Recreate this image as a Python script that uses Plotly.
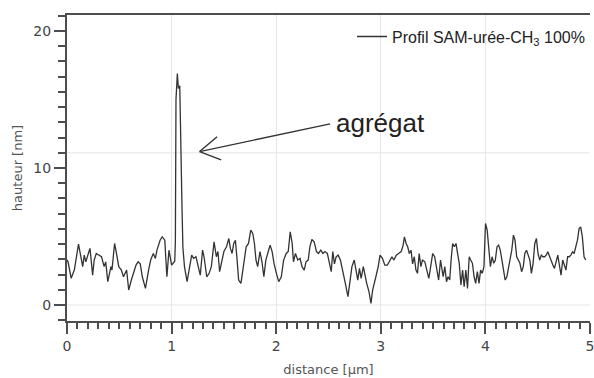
import plotly.graph_objects as go

# AFM height profile
distance_um = [
    0.0, 0.01, 0.04, 0.07, 0.11, 0.125, 0.15, 0.165, 0.18, 0.21,
    0.22, 0.245, 0.26, 0.28, 0.31, 0.33, 0.355, 0.37, 0.39, 0.42,
    0.43, 0.455, 0.47, 0.495, 0.52, 0.54, 0.57, 0.59, 0.615, 0.635,
    0.66, 0.68, 0.70, 0.72, 0.75, 0.78, 0.80, 0.825, 0.845, 0.86,
    0.89, 0.91, 0.935, 0.955, 0.975, 1.0, 1.02,
    # aggregate
    1.03, 1.036, 1.042, 1.055, 1.065, 1.078, 1.088, 1.10, 1.108, 1.123, 1.148,
    1.17, 1.192, 1.21, 1.233, 1.255, 1.274, 1.296, 1.31, 1.336, 1.359,
    1.38, 1.406, 1.428, 1.443, 1.459, 1.478, 1.5, 1.525, 1.547, 1.562,
    1.578, 1.594, 1.61, 1.625, 1.641, 1.663, 1.688, 1.713, 1.735, 1.757,
    1.776, 1.792, 1.807, 1.823, 1.845, 1.864, 1.882, 1.901, 1.924, 1.942,
    1.961, 1.98, 2.002, 2.024, 2.049, 2.071, 2.096, 2.115, 2.134, 2.153,
    2.165, 2.184, 2.206, 2.228, 2.247, 2.268,
    2.285, 2.306, 2.322, 2.341, 2.363, 2.385, 2.404, 2.426, 2.447, 2.466,
    2.489, 2.51, 2.526, 2.541, 2.557, 2.573, 2.592, 2.614, 2.636, 2.661,
    2.686, 2.708, 2.724, 2.746, 2.765, 2.78, 2.796, 2.812, 2.833, 2.849,
    2.865, 2.887, 2.906, 2.922, 2.937, 2.953, 2.975, 2.993, 3.016, 3.038,
    3.063, 3.085, 3.106, 3.125, 3.148, 3.17, 3.195, 3.214, 3.226, 3.242,
    3.257, 3.273, 3.289, 3.304, 3.32, 3.336, 3.351, 3.367, 3.383, 3.398,
    3.421, 3.44, 3.459, 3.477, 3.496, 3.515, 3.534, 3.553, 3.571,
    3.596, 3.612, 3.628, 3.643, 3.659, 3.672, 3.687, 3.703, 3.719, 3.734,
    3.75, 3.766, 3.782, 3.797, 3.813, 3.829, 3.845, 3.86, 3.876, 3.892,
    3.907, 3.923, 3.939, 3.954, 3.97, 3.986, 4.001, 4.017, 4.033, 4.048,
    4.064, 4.08, 4.095, 4.111, 4.127, 4.142, 4.158, 4.174, 4.189, 4.205,
    4.221, 4.236, 4.252, 4.268, 4.283, 4.299, 4.315, 4.33, 4.346, 4.362,
    4.377, 4.393, 4.409, 4.425, 4.44, 4.456, 4.472, 4.488, 4.503, 4.519,
    4.535, 4.55, 4.566, 4.582, 4.597, 4.613, 4.629, 4.645, 4.66, 4.676,
    4.692, 4.707, 4.723, 4.739, 4.754, 4.77, 4.786, 4.801, 4.817, 4.833,
    4.848, 4.864, 4.88, 4.896, 4.911, 4.927, 4.943, 4.959,
]

hauteur_nm = [
    3.3, 3.15, 1.95, 2.55, 4.44, 3.9, 2.8, 3.64, 3.15, 3.9,
    4.13, 2.18, 3.28, 3.76, 3.64, 3.52, 2.8, 3.15, 1.7, 2.8,
    2.55, 4.49, 3.9, 2.8, 2.55, 2.06, 2.55, 1.09, 1.82, 2.31,
    2.91, 3.15, 3.0, 2.06, 1.21, 2.55, 3.28, 3.76, 3.4, 4.0,
    4.73, 4.97, 4.73, 2.06, 4.0, 2.91, 3.15,
    # aggregate
    3.2, 4.6, 15.0, 16.9, 15.8, 16.0, 10.2, 6.9, 4.2, 2.8, 1.7,
    2.55, 3.64, 3.4, 3.52, 2.8, 2.18, 4.0, 3.52, 2.06, 2.31,
    2.8, 4.61, 3.52, 3.9, 2.43, 3.15, 3.9, 4.25, 4.85, 4.13,
    3.76, 4.49, 4.73, 3.4, 1.82, 1.58, 3.0, 4.25, 4.49, 5.46,
    5.22, 4.49, 3.28, 2.8, 3.9, 3.15, 2.06, 3.28, 3.9, 4.37,
    3.9, 3.0, 2.31, 1.7, 2.06, 3.28, 3.76, 3.9, 5.34, 4.49,
    3.15, 3.76, 3.28, 3.4, 2.8, 2.55,
    3.15, 3.28, 4.25, 4.78, 4.61, 3.9, 3.76, 4.0, 3.76, 3.9,
    3.76, 3.0, 2.43, 3.9, 3.0, 3.52, 3.64, 3.28, 2.55, 1.58,
    0.61, 1.82, 2.8, 3.28, 2.55, 1.82, 2.67, 1.94, 2.8, 2.06,
    1.58, 0.97, 0.12, 1.09, 1.7, 2.06, 2.8, 3.64, 3.4, 2.91,
    2.91, 3.28, 3.52, 3.28, 3.64, 3.76, 3.9, 4.37, 4.97, 4.49,
    4.25, 3.76, 4.0, 3.0, 3.52, 2.55, 2.31, 3.76, 2.8, 3.28,
    3.15, 2.55, 1.94, 2.8, 3.76, 3.52, 2.8, 1.82, 3.28,
    2.06, 2.8, 1.7, 2.06, 1.82, 3.28, 4.49, 4.25, 4.49, 3.76,
    3.04, 1.46, 2.55, 1.33, 2.55, 1.21, 3.52, 3.28, 3.04, 2.06,
    1.58, 2.43, 1.58, 2.55, 2.31, 2.8, 5.95, 5.46, 3.76, 2.8,
    3.52, 3.04, 3.28, 4.25, 4.37, 4.0, 3.28, 2.55, 1.82, 2.06,
    2.8, 3.28, 4.0, 5.1, 4.73, 3.52, 3.28, 3.04, 2.43, 2.8,
    3.76, 4.0, 3.64, 3.28, 2.31, 3.04, 4.49, 4.85, 3.76, 3.28,
    3.64, 3.52, 3.52, 3.64, 3.88, 3.52, 3.16, 2.92, 2.67, 3.28,
    3.64, 2.92, 2.18, 3.28, 2.92, 2.55, 3.52, 3.52, 3.64, 3.88,
    3.76, 4.25, 4.73, 5.58, 5.7, 4.97, 3.52, 3.28,
]

x_ticks = [0, 1, 2, 3, 4, 5]
y_ticks = [0, 10, 20]
y_grid = [0, 100 / 9]  # horizontal grid lines of the original software

axis_col = "#4d4d4d"
grid_col = "#e6e6e6"
ink = "#333333"

fig = go.Figure()
fig.add_trace(go.Scatter(
    x=distance_um, y=hauteur_nm, mode="lines",
    name="Profil SAM-urée-CH<sub>3</sub> 100%",
    line=dict(color=ink, width=1.3),
))

for g in y_grid:
    fig.add_shape(type="line", xref="paper", x0=0, x1=1, y0=g, y1=g,
                  line=dict(color=grid_col, width=1), layer="below")

# open arrow pointing at the aggregate: shaft + two barbs (pixel offsets from the tip)
tip_x, tip_y = 1.268, 11.2
for dx, dy in [(132, -28), (19, -16), (23, 9)]:
    fig.add_annotation(x=tip_x, y=tip_y, ax=dx, ay=dy, text="",
                       showarrow=True, arrowhead=0, arrowwidth=1.4,
                       arrowcolor=ink, standoff=0, startstandoff=0)
fig.add_annotation(x=3.0, y=13.3, text="agrégat", showarrow=False,
                   font=dict(family="Arial, Liberation Sans", size=26, color="#222222"))

tick_font = dict(family="DejaVu Sans", size=14, color="#444444")
title_font = dict(family="DejaVu Sans", size=13, color="#555555")

fig.update_layout(
    width=594, height=378,
    margin=dict(l=67, r=0, t=15, b=57),
    plot_bgcolor="white", paper_bgcolor="white",
    showlegend=True,
    legend=dict(x=1, xanchor="right", y=0.985, yanchor="top",
                bgcolor="rgba(0,0,0,0)",
                font=dict(family="Arial, Liberation Sans", size=16, color="#222222")),
    xaxis=dict(
        range=[0, 5], tickvals=x_ticks, showgrid=True, gridcolor=grid_col,
        zeroline=False, showline=True, linecolor=axis_col, linewidth=2, mirror=True,
        ticks="outside", ticklen=11, tickwidth=1.5, tickcolor=axis_col,
        minor=dict(dtick=0.1, tick0=0, ticks="outside", ticklen=6,
                   tickwidth=1.5, tickcolor=axis_col, showgrid=False),
        tickfont=tick_font, ticklabeloverflow="allow",
        title=dict(text="distance [µm]", font=title_font, standoff=12),
    ),
    yaxis=dict(
        range=[-1.17, 21.17], tickvals=y_ticks, showgrid=False,
        zeroline=False, showline=True, linecolor=axis_col, linewidth=2,
        ticks="outside", ticklen=11, tickwidth=1.5, tickcolor=axis_col,
        minor=dict(dtick=10 / 9, tick0=0, ticks="outside", ticklen=7,
                   tickwidth=1.5, tickcolor=axis_col, showgrid=False),
        tickfont=tick_font,
        title=dict(text="hauteur [nm]", font=title_font, standoff=8),
    ),
)

# the page body has a default margin; remove it so the figure fills the window
fig.write_html("out.html", config={"displayModeBar": False},
               post_script="document.body.style.margin='0px';")
